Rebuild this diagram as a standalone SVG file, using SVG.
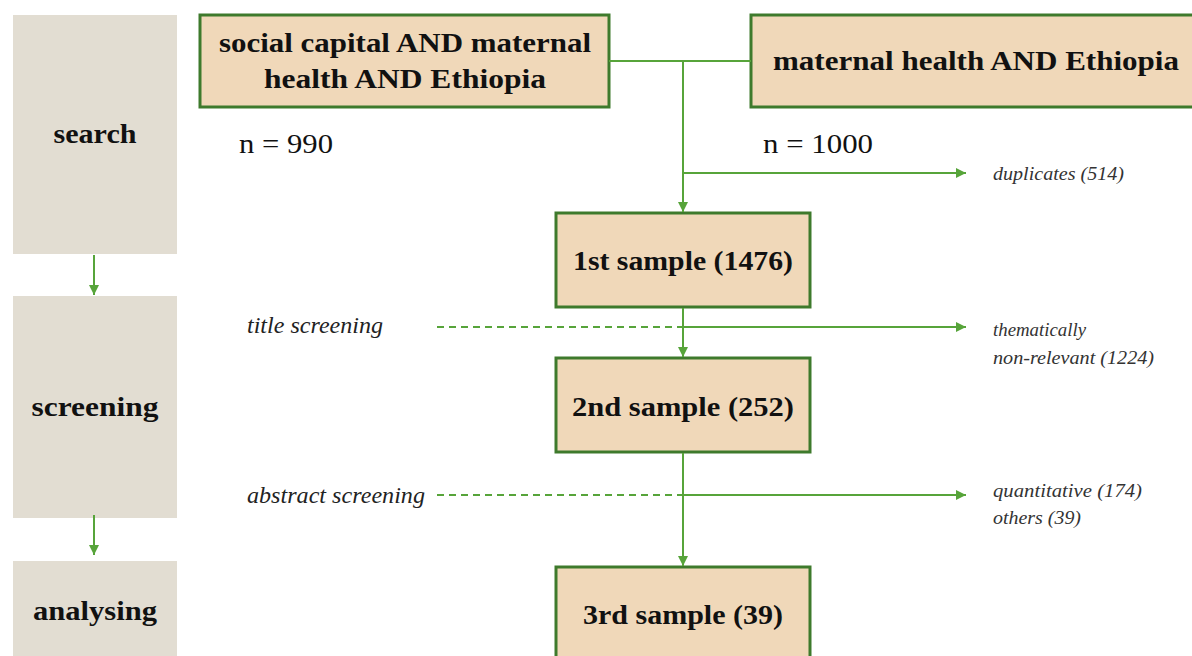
<svg xmlns="http://www.w3.org/2000/svg" width="1192" height="656" viewBox="0 0 1192 656">
<style>
.stage{fill:#e2ddd2}
.box{fill:#f0d8b9;stroke:#3e7a2c;stroke-width:3}
text{font-family:'Liberation Serif','DejaVu Serif','Times New Roman',serif}
.b{font-weight:bold;font-size:27px;fill:#111}
.r{font-size:27px;fill:#111}
.i{font-style:italic;font-size:24px;fill:#222}
.s{font-style:italic;font-size:19px;fill:#333}
.ln{stroke:#57a43a;stroke-width:2;fill:none}
.dash{stroke:#57a43a;stroke-width:2;fill:none;stroke-dasharray:7 5}
</style>
<defs>
<marker id="ah" viewBox="0 0 10 10" refX="10" refY="5" markerWidth="5" markerHeight="5" orient="auto" markerUnits="strokeWidth">
<path d="M0,0 L10,5 L0,10 z" fill="#57a43a"/>
</marker>
</defs>
<rect width="1192" height="656" fill="#fff"/>
<g id="stage-search"><rect class="stage" x="13" y="15" width="164" height="239"/><text class="b" x="95" y="143" text-anchor="middle" textLength="83" lengthAdjust="spacingAndGlyphs">search</text></g>
<g id="stage-screening"><rect class="stage" x="13" y="296" width="164" height="222"/><text class="b" x="95" y="416" text-anchor="middle" textLength="127" lengthAdjust="spacingAndGlyphs">screening</text></g>
<g id="stage-analysing"><rect class="stage" x="13" y="561" width="164" height="100"/><text class="b" x="95" y="620" text-anchor="middle" textLength="124" lengthAdjust="spacingAndGlyphs">analysing</text></g>
<g id="query1"><rect class="box" x="200" y="15" width="409" height="92"/><text class="b" x="405" y="52" text-anchor="middle" textLength="372" lengthAdjust="spacingAndGlyphs">social capital AND maternal</text><text class="b" x="405" y="88" text-anchor="middle" textLength="282" lengthAdjust="spacingAndGlyphs">health AND Ethiopia</text></g>
<g id="query2"><rect class="box" x="751" y="15" width="450" height="92"/><text class="b" x="976" y="70" text-anchor="middle" textLength="406" lengthAdjust="spacingAndGlyphs">maternal health AND Ethiopia</text></g>
<g id="n990"><text class="r" x="239" y="153" textLength="94" lengthAdjust="spacingAndGlyphs">n = 990</text></g>
<g id="n1000"><text class="r" x="763" y="153" textLength="110" lengthAdjust="spacingAndGlyphs">n = 1000</text></g>
<g id="sample1"><rect class="box" x="556" y="213" width="254" height="94"/><text class="b" x="683" y="270" text-anchor="middle" textLength="220" lengthAdjust="spacingAndGlyphs">1st sample (1476)</text></g>
<g id="sample2"><rect class="box" x="556" y="358" width="254" height="94"/><text class="b" x="683" y="416" text-anchor="middle" textLength="222" lengthAdjust="spacingAndGlyphs">2nd sample (252)</text></g>
<g id="sample3"><rect class="box" x="556" y="567" width="254" height="100"/><text class="b" x="683" y="624" text-anchor="middle" textLength="200" lengthAdjust="spacingAndGlyphs">3rd sample (39)</text></g>
<g id="label-title"><text class="i" x="247" y="333" textLength="136" lengthAdjust="spacingAndGlyphs">title screening</text></g>
<g id="label-abstract"><text class="i" x="247" y="503" textLength="178" lengthAdjust="spacingAndGlyphs">abstract screening</text></g>
<g id="excl-dup"><text class="s" x="993" y="180" textLength="131" lengthAdjust="spacingAndGlyphs">duplicates (514)</text></g>
<g id="excl-them"><text class="s" x="993" y="336" textLength="93" lengthAdjust="spacingAndGlyphs">thematically</text><text class="s" x="993" y="364" textLength="161" lengthAdjust="spacingAndGlyphs">non-relevant (1224)</text></g>
<g id="excl-abs"><text class="s" x="993" y="497" textLength="149" lengthAdjust="spacingAndGlyphs">quantitative (174)</text><text class="s" x="993" y="524" textLength="88" lengthAdjust="spacingAndGlyphs">others (39)</text></g>
<g id="connectors">
<line class="ln" x1="94" y1="255" x2="94" y2="295" marker-end="url(#ah)"/>
<line class="ln" x1="94" y1="515" x2="94" y2="555" marker-end="url(#ah)"/>
<line class="ln" x1="609" y1="61" x2="751" y2="61"/>
<line class="ln" x1="683" y1="61" x2="683" y2="212" marker-end="url(#ah)"/>
<line class="ln" x1="683" y1="173" x2="966" y2="173" marker-end="url(#ah)"/>
<line class="ln" x1="683" y1="308" x2="683" y2="357" marker-end="url(#ah)"/>
<line class="dash" x1="437" y1="327" x2="683" y2="327"/>
<line class="ln" x1="683" y1="327" x2="966" y2="327" marker-end="url(#ah)"/>
<line class="ln" x1="683" y1="453" x2="683" y2="566" marker-end="url(#ah)"/>
<line class="dash" x1="437" y1="495" x2="683" y2="495"/>
<line class="ln" x1="683" y1="495" x2="966" y2="495" marker-end="url(#ah)"/>
</g>
</svg>
